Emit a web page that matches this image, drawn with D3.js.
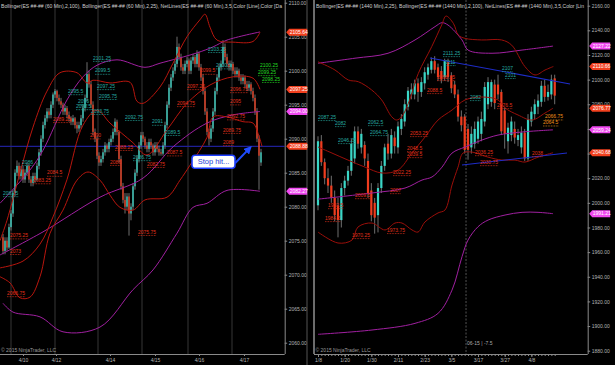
<!DOCTYPE html>
<html>
<head>
<meta charset="utf-8">
<script src="https://cdn.jsdelivr.net/npm/d3@7"></script>
<style>
  body { margin: 0; background: #000; }
  svg { display: block; }
  text { font-family: "Liberation Sans", Arial, sans-serif; }
</style>
</head>
<body>
<svg id="chart" width="615" height="365"></svg>
<script>
// ---- left panel: ES 60 min, [open, high, low, close]
const leftBars = [
  [2075.5,2076,2073,2073.5],[2073.5,2075.5,2073,2075],[2075,2075.5,2073.5,2074],[2074,2077.5,2073.8,2077],
  [2077,2079.5,2076.5,2079],[2079,2082.5,2078.5,2082],[2082,2085.5,2081.5,2085],[2085,2086.8,2084.5,2086],
  [2086,2086.5,2084,2084.5],[2084.5,2086,2084,2085.5],[2085.5,2086,2083.5,2084],[2084,2085.5,2083.5,2085],
  [2085,2086.5,2084.5,2086],[2086,2086.3,2083.5,2084],[2084,2084.5,2083,2083.5],[2083.5,2085,2083,2084.5],
  [2084.5,2085,2083.5,2084],[2084,2086.5,2083.8,2086],[2086,2088.5,2085.5,2088],[2088,2090.5,2087.5,2090],
  [2090,2092.5,2089.5,2092],[2092,2093.5,2091.5,2093],[2093,2094.5,2092.5,2094],[2094,2094.5,2093,2093.5],
  [2093.5,2095.5,2093,2095],[2095,2096.8,2094.5,2096.5],[2096.5,2097.3,2096,2097],[2097,2097.2,2095.5,2096],
  [2096,2096.5,2095,2095.5],[2095.5,2096,2094.5,2095],[2095,2095.3,2093.5,2094],[2094,2095,2093.5,2094.5],
  [2094.5,2094.8,2093,2093.5],[2093.5,2094,2092.5,2093],[2093,2093.3,2092,2092.5],[2092.5,2093.5,2092,2093],
  [2093,2093.2,2091.5,2092],[2092,2092.5,2090.8,2091.5],[2091.5,2092.5,2091,2092],[2092,2093.5,2091.5,2093],
  [2093,2095,2092.5,2094.5],[2094.5,2096.5,2094,2096],[2096,2101.25,2095.5,2099.5],[2099.5,2100,2097.5,2098],
  [2098,2098.5,2094.5,2095],[2095,2095.5,2090.5,2091],[2091,2091.5,2089.5,2090],[2090,2090.3,2087,2087.5],
  [2087.5,2088,2086,2086.5],[2086.5,2087.5,2086,2087],[2087,2088.5,2086.5,2088],[2088,2089.5,2087.5,2089],
  [2089,2089.3,2088,2088.5],[2088.5,2090,2088,2089.5],[2089.5,2090.5,2089,2090],[2090,2091.5,2089.5,2091],
  [2091,2093,2090.5,2092.5],[2092.5,2092.8,2090.5,2091],[2091,2091.2,2086.5,2087],[2087,2087.5,2082.5,2083],
  [2083,2083.5,2080.5,2081],[2081,2082,2079,2080],[2080,2082,2079.5,2081.5],[2081.5,2082,2075.75,2079],
  [2079,2080.5,2078,2080],[2080,2083.5,2079.5,2083],[2083,2085.5,2082.5,2085],[2085,2087.5,2084.5,2087],
  [2087,2089.5,2086.5,2089],[2089,2091,2088.5,2090.5],[2090.5,2091,2089.5,2090],[2090,2090.3,2088.5,2089],
  [2089,2089.5,2088,2088.5],[2088.5,2090,2088,2089.5],[2089.5,2090,2088.5,2089],[2089,2089.3,2087.5,2088],
  [2088,2089.5,2087.5,2089],[2089,2089.5,2088,2088.5],[2088.5,2089,2087.5,2088],[2088,2088.5,2087.5,2087.8],
  [2087.8,2089.5,2087.5,2089],[2089,2092.5,2088.5,2092],[2092,2095.5,2091.5,2095],[2095,2098,2094.5,2097.5],
  [2097.5,2099.5,2097,2099],[2099,2100.5,2098.5,2100],[2100,2101.5,2099.5,2101],[2101,2105,2100.5,2103.5],
  [2103.5,2104,2101.5,2102],[2102,2102.5,2100,2100.5],[2100.5,2101,2099.5,2100],[2100,2101.5,2099.5,2101],
  [2101,2102,2100.5,2101.5],[2101.5,2101.8,2099.5,2100],[2100,2102,2099.5,2101.5],[2101.5,2102.5,2101,2102],
  [2102,2102.3,2100.5,2101],[2101,2103,2100.5,2102.5],[2102.5,2102.8,2100,2100.5],[2100.5,2101,2098.5,2099],
  [2099,2099.5,2096.5,2097],[2097,2097.5,2093.5,2094],[2094,2094.5,2090.5,2091],[2091,2091.5,2089,2090],
  [2090,2092,2089.5,2091.5],[2091.5,2094.5,2091,2094],[2094,2097.5,2093.5,2097],[2097,2099.5,2096.5,2099],
  [2099,2101,2098.5,2100.5],[2100.5,2101.5,2100,2101],[2101,2104.5,2100.5,2103.5],[2103.5,2104,2101.5,2102],
  [2102,2102.5,2100.5,2101],[2101,2101.5,2100,2100.5],[2100.5,2101.5,2100,2101],[2101,2101.3,2099.5,2100],
  [2100,2100.5,2099,2099.5],[2099.5,2100.5,2099,2100],[2100,2100.3,2098.5,2099],[2099,2099.5,2098,2098.5],
  [2098.5,2099.5,2098,2099],[2099,2099.3,2097.5,2098],[2098,2098.5,2097,2097.5],[2097.5,2098.5,2097,2098],
  [2098,2098.3,2096.5,2097],[2097,2097.5,2095.5,2096],[2096,2096.5,2093.5,2094],[2094,2094.5,2089.5,2090],
  [2090,2090.5,2082.5,2087.5],[2086.5,2088.5,2086,2088]
];

// bands on the 60 min chart, [bar index, price]
const leftBB100Upper = [[-1.5,2080.5],[13.5,2085.4],[20,2088.3],[32,2095.7],[40,2099.1],[47,2100.8],[57,2101.6],[71,2100.5],[78.5,2101.1],[96.8,2102.6],[105,2103.5],[112,2104.5],[128.5,2105.7]];
const leftBB100Mid = [[-1.5,2072.9],[20,2076.3],[48.5,2081.4],[70,2084.2],[85,2088.8],[102,2092.3],[115,2093.5],[128.5,2094]];
const leftBB100Lower = [[0,2065.8],[5,2064.5],[18.5,2063.8],[30,2061.6],[48.5,2062.3],[65,2067.8],[75,2070.7],[87,2076.1],[95,2079.9],[102,2080.5],[112,2082.4],[128.5,2082.27]];
const leftBB25Upper = [[-1.5,2075],[2,2078],[8.5,2085],[15,2091.7],[22,2097],[28.5,2099.7],[37,2099.7],[42,2098.2],[45,2098.6],[53.5,2098.2],[63.5,2098.3],[67,2095.5],[70,2095.2],[78.5,2097.6],[85,2101.1],[92,2105],[98.5,2107.5],[101,2108.3],[103.5,2106.4],[107,2104.5],[115,2104.2],[125,2104.3],[128.5,2105.64]];
const leftBB25Mid = [[-1.5,2071],[10,2072],[18.5,2074.5],[25,2078.5],[32,2084],[40,2092],[47,2094.2],[53.5,2092.3],[65,2089.4],[72,2087.6],[82,2091.3],[92,2095.2],[103.5,2097.9],[115,2099.1],[125,2098.9],[128.5,2097.25]];
const leftBB25Lower = [[-1.5,2069.7],[3.5,2068.8],[8.5,2066.6],[13.5,2066.7],[18.5,2069.7],[23.5,2076.1],[30,2079.5],[37,2083.9],[42.5,2085.1],[48.5,2083.9],[53.5,2081.7],[58.5,2079.9],[65,2079.5],[71,2081],[82,2081.4],[88.5,2083.9],[93.5,2086.1],[102,2090.2],[105,2093.2],[112,2093.2],[120,2092.5],[125,2092.3],[127.5,2090.8],[129.5,2088.88]];

const stopLevel = 2088.88;
const leftTags = [[2105.64, "red"], [2097.25, "red"], [2094.00, "mag"], [2088.88, "red"], [2082.27, "mag"]];
const leftSessionBreaks = [4, 26, 47.5, 69.5, 92.5, 114.5];
const leftDates = ["4/10", "4/12", "4/14", "4/15", "4/16", "4/17"];
const leftDateIdx = [10, 26.5, 53.5, 76, 98, 120.5];

// NetLines labels: [text, bar index, price]
const leftCyanLabels = [
  ["2101.25",45,2101.9],["2099.5",46,2100],["2097.25",47,2097.75],["2095.75",48,2096.3],["2095.5",32.5,2097],
  ["2096",37.5,2095.5],["2093.5",36.5,2094.8],["2093.75",44,2094.1],["2092.75",61,2093.2],["2091",74.5,2092.5],
  ["2089.5",81,2091],["2086.75",65,2087.3],["2086",9.5,2086.6],["2081.5",0,2082],["2103.25",102.5,2103.2],["2100.5",106.5,2100.8]
];
const leftRedLabels = [
  ["2090",43.5,2090.5],["2086",53.5,2086.6],["2088.25",56,2088.8],["2089.25",25,2092.9],["2084.5",22,2085],
  ["2083.25",15,2083.9],["2087.5",82,2088],["2082.75",72,2086.3],["2097.25",92,2097.75],["2094.75",87,2095.25],
  ["2099.5",98.5,2100],["2096.75",113.5,2097.3],["2095",113.5,2095.5],["2092.75",112,2093.3],["2089.75",110,2091.3],
  ["2089",110,2089.5],["2075.75",67.5,2076.3],["2075.25",3.5,2075.8],["2073",3.5,2073.5],["2066.75",2,2067.3]
];
const leftGreenLabels = [["2100.25",128.5,2100.8],["2099.25",127.5,2099.8],["2098.25",129.5,2098.8]];

const stopNote = { text: "Stop hit...", idx: 94.5, price: 2086.6 };
const stopArrow = [[116, 2086.4], [123, 2088.5]];

// ---- right panel: ES daily, [open, high, low, close]
const rightBars = [
  [1998,2054,1994,2050],[2050,2055,2030,2033],[2033,2036,2015,2020],[2020,2028,2008,2014],[2014,2022,2000,2004],
  [2004,2010,1985,1990],[1998,2004,1972,1986],[1986,2016,1980,2012],[2012,2022,2006,2018],[2018,2030,2014,2026],
  [2026,2052,2022,2048],[2036,2062,2032,2058],[2058,2062,2044,2048],[2045,2060,2040,2056],[2047,2050,2030,2036],
  [2034,2040,2004,2008],[2010,2016,1985,1990],[2000,2004,1975,1988],[1990,2016,1976,2012],[2012,2034,2008,2030],
  [2030,2048,2026,2045],[2048,2056,2035,2040],[2040,2060,2036,2055],[2053,2058,2040,2046],[2045,2066,2040,2062],
  [2060,2072,2055,2068],[2066,2084,2062,2080],[2078,2094,2075,2091],[2088,2097,2084,2092],[2088,2100,2084,2097],
  [2097,2101,2082,2090],[2090,2102,2086,2098],[2097,2110,2092,2106],[2104,2113,2100,2110],[2108,2118,2105,2115],
  [2115,2119,2105,2108],[2110,2113,2099,2102],[2107,2111,2097,2100],[2102,2117,2099,2115],[2114,2117,2098,2102],
  [2103,2106,2089,2093],[2096,2099,2085,2088],[2088,2092,2066,2070],[2070,2075,2058,2063],[2070,2072,2040,2043],
  [2060,2064,2035,2043],[2045,2062,2040,2056],[2048,2066,2044,2060],[2052,2070,2048,2066],[2056,2074,2050,2068],
  [2066,2098,2062,2094],[2080,2102,2076,2098],[2082,2100,2078,2098],[2096,2100,2076,2081],[2096,2104,2084,2088],
  [2090,2092,2055,2058],[2075,2078,2044,2056],[2050,2065,2040,2061],[2055,2070,2050,2066],[2060,2066,2048,2053],
  [2051,2060,2046,2055],[2045,2062,2040,2057],[2057,2060,2034,2036],[2036,2072,2034,2068],[2066,2078,2062,2074],
  [2072,2084,2068,2080],[2078,2088,2072,2083],[2082,2099,2078,2095],[2095,2100,2082,2086],[2086,2096,2083,2090],
  [2088,2104,2084,2100],[2101,2104,2080,2087]
];

const rightBB100Upper = [[0,2113.3],[11.1,2117.4],[21,2121.4],[29.1,2132.2],[35.1,2143],[37.2,2146.2],[39,2144.3],[43.2,2132.2],[45,2124],[52.2,2121.4],[61.2,2124],[70.5,2127.22]];
const rightBB100Mid = [[0,2003],[16.2,2008],[26.1,2012],[31.2,2018.5],[34.2,2021],[37.2,2029],[40.2,2040.4],[44.1,2045.3],[49.2,2051],[54,2055],[61.2,2057.5],[70.5,2059.24]];
const rightBB100Lower = [[0,1893.3],[16.2,1896.8],[29.1,1902.2],[36,1910.3],[40.2,1929.2],[43.2,1956.3],[45,1969.8],[48,1980.6],[51,1986],[56.1,1990.1],[61.2,1992.3],[66,1992.3],[70.5,1991.21]];
const rightBB25Upper = [[0,2114.5],[5.1,2107.8],[9.1,2099.7],[12.1,2098.3],[16.1,2091.6],[19.1,2083.5],[22.1,2069.9],[23.6,2067.2],[25.1,2069.9],[27.1,2080.8],[30.1,2105.1],[34.1,2126.7],[37.1,2144.3],[38.4,2151.6],[40.6,2145.7],[42.1,2136.2],[44.1,2133.5],[49.1,2132.2],[55.1,2132.2],[58.1,2128],[62.1,2110.5],[65.1,2103.8],[68.1,2107.8],[70.6,2110.66]];
const rightBB25Mid = [[0,2045.3],[4.2,2040.4],[9,2034.7],[14.1,2029],[19.2,2024.2],[24,2026.6],[28.2,2040.4],[32.1,2053.4],[36,2067.2],[40.2,2075.3],[44.1,2083.5],[49.2,2085.9],[54,2083.5],[56.1,2077],[60,2071.3],[64.2,2067.2],[68.1,2072.9],[70.5,2076.77]];
const rightBB25Lower = [[0,1976.3],[6,1967.4],[10.2,1969.8],[12,1980.4],[16.2,1983.6],[20.1,1978],[23.1,1983.6],[25.2,1983.6],[28.2,1978],[30,1976.3],[32.1,1984.5],[36,1991.8],[38.1,1994.2],[40.2,2014.5],[42,2029],[43.5,2040.4],[46.2,2041.2],[51,2037.1],[55.2,2034.7],[59.1,2034.7],[62.1,2033.1],[66,2037.1],[70.5,2040.68]];

const rightTrendLines = [[[33.6,2117.6],[75.6,2096.5]], [[43.2,2030.7],[74.7,2040.4]]];
const rightMarkerIdx = 44.4;
const rightTags = [[2127.22, "mag"], [2110.66, "red"], [2076.77, "red"], [2059.24, "mag"], [2040.68, "red"], [1991.21, "mag"]];
const rightDates = ["1/8", "1/20", "1/30", "2/11", "2/23", "3/5", "3/17", "3/27", "4/8"];
const rightDateIdx = [0, 8, 16, 24, 32, 40, 48, 56, 64];

const rightCyanLabels = [
  ["2087.25",0,2069.7],["2082",5.1,2064.8],["2062.5",15,2065.6],["2064.75",15.6,2057.5],["2046.25",6,2051],
  ["2111.25",37.5,2121.6],["2111",38.1,2114.3],["2082",45.6,2085.9],["2107",55.2,2109.4],["2101",56.1,2103.8]
];
const rightRedLabels = [
  ["2053.25",27.6,2056.7],["2048.5",26.7,2044.5],["2039.5",26.7,2039.6],["2022.25",22.5,2025],["2088.5",32.7,2091.6],
  ["2098.75",35.7,2102.1],["2036.25",47.1,2041.2],["2030.75",48.6,2033.1],["2076.5",53.7,2079.4],["2038",64.2,2040.4],
  ["2009.5",11.1,2006.3],["2007",21.6,2010.4],["1992.5",3,1998.2],["1984.5",2.1,1987.7],["1970.25",10.2,1973.9],["1973.75",20.7,1978]
];
const rightOrangeLabels = [["2066.75",68.1,2070.2],["2064.5",67.5,2065.3]];

const leftTitle = "Bollinger(ES ##-## (60 Min),2,100), Bollinger(ES ##-## (60 Min),2,25), NetLines(ES ##-## (60 Min),3,5,Color [Line],Color [Da";
const rightTitle = "Bollinger(ES ##-## (1440 Min),2,25), Bollinger(ES ##-## (1440 Min),2,100), NetLines(ES ##-## (1440 Min),3,5,Color [Lin";

// ---- styles
const UP = "#3ad6c6", DOWN = "#f03c1e", WICK = "#8c8c8c";
const PURPLE = "#a020a0", RED_L = "#b8160e", RED_R = "#9a0f0a";
const TAG = { red: "#f2401e", mag: "#f048f0" };
const AXIS = "#8a8a8a", AXIS_TEXT = "#b4b4b4";
const CYAN_TXT = "#25aaa0", RED_TXT = "#e0301a", GREEN_TXT = "#22dd22", ORANGE_TXT = "#f09018";

const svg = d3.select("#chart");
svg.append("rect").attr("width", 615).attr("height", 365).attr("fill", "#000");

const bottom = 354;
const L = { left: 0, right: 284.7 };
const R = { left: 314, right: 587.7 };

const xL = d3.scaleLinear().domain([0, leftBars.length - 1]).range([3, 261]);
const yL = d3.scaleLinear().domain([2060, 2100]).range([342.7, 70.7]);
const xR = d3.scaleLinear().domain([0, rightBars.length - 1]).range([318, 554.7]);
const yR = d3.scaleLinear().domain([1880, 2160]).range([350.7, 5.7]);

const defs = svg.append("defs");
defs.append("clipPath").attr("id", "clipL").append("rect")
  .attr("x", L.left).attr("y", 0).attr("width", L.right - L.left).attr("height", bottom);
defs.append("clipPath").attr("id", "clipR").append("rect")
  .attr("x", R.left + 0.5).attr("y", 0).attr("width", R.right - R.left - 0.5).attr("height", bottom);
defs.append("marker").attr("id", "arrowHead")
  .attr("viewBox", "0 0 10 10").attr("refX", 5).attr("refY", 5)
  .attr("markerWidth", 4).attr("markerHeight", 4).attr("orient", "auto")
  .append("path").attr("d", "M0,0L10,5L0,10z").attr("fill", "#1f4cff");

const gL = svg.append("g").attr("clip-path", "url(#clipL)");
const gR = svg.append("g").attr("clip-path", "url(#clipR)");

function drawCandles(g, bars, x, y, bw) {
  const bar = g.append("g").selectAll("g").data(bars).join("g");
  bar.append("line")
    .attr("x1", (d, i) => x(i)).attr("x2", (d, i) => x(i))
    .attr("y1", d => y(d[1])).attr("y2", d => y(d[2]))
    .attr("stroke", WICK).attr("stroke-width", 0.8);
  bar.append("rect")
    .attr("x", (d, i) => x(i) - bw / 2).attr("width", bw)
    .attr("y", d => y(Math.max(d[0], d[3])))
    .attr("height", d => Math.max(0.8, Math.abs(y(d[0]) - y(d[3]))))
    .attr("fill", d => d[3] >= d[0] ? UP : DOWN);
}

function drawBand(g, pts, x, y, color, w) {
  const line = d3.line().x(d => x(d[0])).y(d => y(d[1])).curve(d3.curveCatmullRom.alpha(0.5));
  g.append("path").attr("d", line(pts)).attr("fill", "none")
    .attr("stroke", color).attr("stroke-width", w || 1);
}

function netLabel(g, d, x, y, color) {
  const t = g.append("text")
    .attr("x", x(d[1])).attr("y", y(d[2])).attr("dy", "0.35em")
    .attr("font-size", 5).attr("fill", color).text(d[0]);
  const w = t.node().getComputedTextLength();
  g.append("line")
    .attr("x1", x(d[1])).attr("x2", x(d[1]) + w)
    .attr("y1", y(d[2]) + 3.6).attr("y2", y(d[2]) + 3.6)
    .attr("stroke", color).attr("stroke-width", 0.8).attr("stroke-dasharray", "0.8,0.8");
}

function priceTag(value, kind, axisX, y) {
  const yy = y(value), x0 = axisX + 1.5, h = 7, w = 21;
  svg.append("path")
    .attr("d", `M${x0},${yy} L${x0 + 3},${yy - h / 2} H${x0 + w} V${yy + h / 2} H${x0 + 3} Z`)
    .attr("fill", TAG[kind]);
  svg.append("text").attr("x", x0 + 3.5).attr("y", yy).attr("dy", "0.35em")
    .attr("font-size", 5).attr("fill", "#fff").text(value.toFixed(2));
}

// ---- left panel
gL.selectAll("line.session").data(leftSessionBreaks).join("line")
  .attr("class", "session")
  .attr("x1", d => xL(d)).attr("x2", d => xL(d)).attr("y1", 0).attr("y2", bottom)
  .attr("stroke", "#444").attr("stroke-width", 0.8);

gL.append("line")
  .attr("x1", L.left).attr("x2", L.right).attr("y1", yL(stopLevel)).attr("y2", yL(stopLevel))
  .attr("stroke", "#1f1f96").attr("stroke-width", 1.3);

drawCandles(gL, leftBars, xL, yL, 1.3);

drawBand(gL, leftBB100Upper, xL, yL, PURPLE);
drawBand(gL, leftBB100Mid, xL, yL, PURPLE);
drawBand(gL, leftBB100Lower, xL, yL, PURPLE);
drawBand(gL, leftBB25Upper, xL, yL, RED_L);
drawBand(gL, leftBB25Mid, xL, yL, RED_L);
drawBand(gL, leftBB25Lower, xL, yL, RED_L);

leftCyanLabels.forEach(d => netLabel(gL, d, xL, yL, CYAN_TXT));
leftRedLabels.forEach(d => netLabel(gL, d, xL, yL, RED_TXT));
leftGreenLabels.forEach(d => netLabel(gL, d, xL, yL, GREEN_TXT));

// stop note and arrow
gL.append("line")
  .attr("x1", xL(stopArrow[0][0])).attr("y1", yL(stopArrow[0][1]))
  .attr("x2", xL(stopArrow[1][0])).attr("y2", yL(stopArrow[1][1]))
  .attr("stroke", "#1f4cff").attr("stroke-width", 2).attr("marker-end", "url(#arrowHead)");
const note = gL.append("g").attr("transform", `translate(${xL(stopNote.idx)},${yL(stopNote.price)})`);
note.append("rect").attr("x", 0).attr("y", -6.5).attr("width", 43).attr("height", 13).attr("rx", 3)
  .attr("fill", "#fff").attr("stroke", "#1f3fff").attr("stroke-width", 1.6);
note.append("text").attr("x", 21.5).attr("y", 0).attr("dy", "0.35em").attr("text-anchor", "middle")
  .attr("font-size", 7.5).attr("fill", "#2340d8").text(stopNote.text);

// ---- right panel
gR.append("line")
  .attr("x1", xR(rightMarkerIdx)).attr("x2", xR(rightMarkerIdx)).attr("y1", 0).attr("y2", bottom)
  .attr("stroke", "#777").attr("stroke-width", 0.7).attr("stroke-dasharray", "2,1.5");

drawCandles(gR, rightBars, xR, yR, 2.2);

drawBand(gR, rightBB100Upper, xR, yR, PURPLE);
drawBand(gR, rightBB100Mid, xR, yR, PURPLE);
drawBand(gR, rightBB100Lower, xR, yR, PURPLE);
drawBand(gR, rightBB25Upper, xR, yR, RED_R);
drawBand(gR, rightBB25Mid, xR, yR, RED_R);
drawBand(gR, rightBB25Lower, xR, yR, RED_R);

rightTrendLines.forEach(t => {
  gR.append("line")
    .attr("x1", xR(t[0][0])).attr("y1", yR(t[0][1])).attr("x2", xR(t[1][0])).attr("y2", yR(t[1][1]))
    .attr("stroke", "#1e2cc8").attr("stroke-width", 1.1);
});

rightCyanLabels.forEach(d => netLabel(gR, d, xR, yR, CYAN_TXT));
rightRedLabels.forEach(d => netLabel(gR, d, xR, yR, RED_TXT));
rightOrangeLabels.forEach(d => netLabel(gR, d, xR, yR, ORANGE_TXT));

// ---- axes
function styleAxis(g) {
  g.select(".domain").attr("stroke", AXIS);
  g.selectAll(".tick line").attr("stroke", AXIS);
  g.selectAll(".tick text").attr("fill", AXIS_TEXT).attr("font-size", 5)
    .attr("font-family", "Liberation Sans, Arial, sans-serif");
}

// tick labels that sit fully under a price tag are not drawn, as in the platform
function hideUnderTags(g, tags, y) {
  g.selectAll(".tick text").filter(v => tags.some(t => Math.abs(y(t[0]) - y(v)) < 3.5)).remove();
}

svg.append("g").attr("transform", `translate(${L.right},0)`)
  .call(d3.axisRight(yL).tickValues(d3.range(2060, 2111, 5)).tickFormat(d3.format(".2f"))
    .tickSize(2.5).tickPadding(1.5).tickSizeOuter(0))
  .call(g => g.select(".domain").attr("d", `M0.5,0V${bottom}`))
  .call(styleAxis)
  .call(g => hideUnderTags(g, leftTags, yL));

svg.append("g").attr("transform", `translate(0,${bottom})`)
  .call(d3.axisBottom(xL).tickValues(leftDateIdx).tickFormat((d, i) => leftDates[i])
    .tickSize(2).tickPadding(2).tickSizeOuter(0))
  .call(g => g.select(".domain").attr("d", `M${L.left},0.5H${L.right}`))
  .call(styleAxis);

svg.append("g").attr("transform", `translate(${R.right},0)`)
  .call(d3.axisRight(yR).tickValues(d3.range(1880, 2161, 20)).tickFormat(d3.format(".2f"))
    .tickSize(2.5).tickPadding(1.5).tickSizeOuter(0))
  .call(g => g.select(".domain").attr("d", `M0.5,0V${bottom}`))
  .call(styleAxis)
  .call(g => hideUnderTags(g, rightTags, yR));

svg.append("g").attr("transform", `translate(0,${bottom})`)
  .call(d3.axisBottom(xR).tickValues(d3.range(0, rightBars.length)).tickFormat(() => "")
    .tickSize(2).tickSizeOuter(0))
  .call(g => g.select(".domain").attr("d", `M${R.left},0.5H${R.right}`))
  .call(styleAxis);

svg.append("g").attr("transform", `translate(0,${bottom})`)
  .call(d3.axisBottom(xR).tickValues(rightDateIdx).tickFormat((d, i) => rightDates[i])
    .tickSize(3).tickPadding(1.5))
  .call(g => g.select(".domain").remove())
  .call(styleAxis);

// panel borders
svg.append("line").attr("x1", 307).attr("x2", 307).attr("y1", 0).attr("y2", 365)
  .attr("stroke", "#555").attr("stroke-width", 1);
svg.append("line").attr("x1", R.left).attr("x2", R.left).attr("y1", 0).attr("y2", bottom)
  .attr("stroke", "#d8d8d8").attr("stroke-width", 1);

leftTags.forEach(t => priceTag(t[0], t[1], L.right, yL));
rightTags.forEach(t => priceTag(t[0], t[1], R.right, yR));

// titles and footers
svg.append("text").attr("x", 1).attr("y", 7.5).attr("font-size", 5).attr("fill", "#cfcfcf")
  .attr("textLength", 281).attr("lengthAdjust", "spacingAndGlyphs").text(leftTitle);
svg.append("text").attr("x", 316).attr("y", 7.5).attr("font-size", 5).attr("fill", "#cfcfcf")
  .attr("textLength", 268).attr("lengthAdjust", "spacingAndGlyphs").text(rightTitle);

svg.append("text").attr("x", 1).attr("y", 352).attr("font-size", 5).attr("fill", "#9a9a9a")
  .text("\u00a9 2015 NinjaTrader, LLC");
svg.append("text").attr("x", R.left + 1.5).attr("y", 352).attr("font-size", 5).attr("fill", "#9a9a9a")
  .text("\u00a9 2015 NinjaTrader, LLC");
svg.append("text").attr("x", xR(rightMarkerIdx) + 1).attr("y", 345).attr("font-size", 5).attr("fill", "#aaa")
  .text("06-15 | -7.5");
</script>
</body>
</html>
